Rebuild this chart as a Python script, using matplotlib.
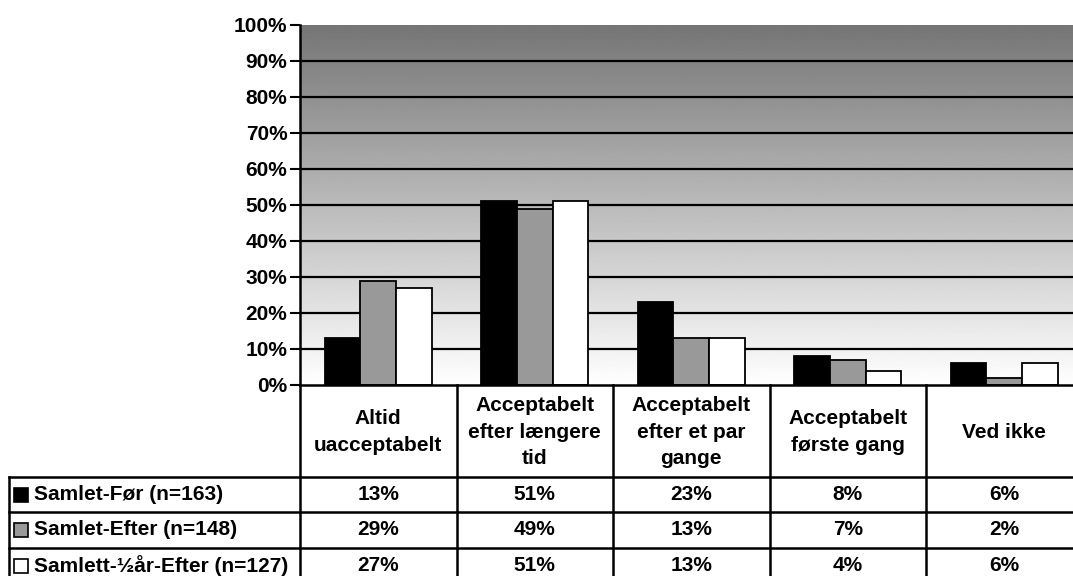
import numpy as np
import matplotlib
matplotlib.use("Agg")
import matplotlib.pyplot as plt
from matplotlib.patches import Rectangle

plt.rcParams['font.family'] = ['Liberation Sans', 'DejaVu Sans']
plt.rcParams['font.weight'] = 'bold'

categories = [
    "Altid\nuacceptabelt",
    "Acceptabelt\nefter længere\ntid",
    "Acceptabelt\nefter et par\ngange",
    "Acceptabelt\nførste gang",
    "Ved ikke",
]
series_names = [
    "Samlet-Før (n=163)",
    "Samlet-Efter (n=148)",
    "Samlett-½år-Efter (n=127)",
]
foer = [13, 51, 23, 8, 6]
efter = [29, 49, 13, 7, 2]
halvaar_efter = [27, 51, 13, 4, 6]
yticks = [0, 10, 20, 30, 40, 50, 60, 70, 80, 90, 100]

series = [foer, efter, halvaar_efter]
colors = ["#000000", "#999999", "#ffffff"]

W, H = 1073, 576
fig = plt.figure(figsize=(W / 100, H / 100), dpi=100)

# plot area in pixels: left 300, right 1082 (runs past the edge), top 25, bottom 385
px_left, px_right, px_top, px_bot = 300, 1082.5, 25, 385
ax = fig.add_axes([px_left / W, (H - px_bot) / H,
                   (px_right - px_left) / W, (px_bot - px_top) / H])

n = len(categories)
x = np.arange(n)
ax.set_xlim(-0.5, n - 0.5)
ax.set_ylim(0, 100)

# gradient background: dark grey at top, white at bottom
grad = np.linspace(1.0, 0.46, 256).reshape(-1, 1)
ax.imshow(grad, extent=[-0.5, n - 0.5, 0, 100], aspect='auto', cmap='gray',
          vmin=0, vmax=1, origin='lower', zorder=0)

for t in yticks[1:-1]:
    ax.axhline(t, color='black', lw=1.6, zorder=1)

bw = 0.227
for i, (vals, c) in enumerate(zip(series, colors)):
    ax.bar(x + (i - 1) * bw, vals, width=bw, color=c, edgecolor='black',
           linewidth=1.3, zorder=2)

fs = 15
ax.set_yticks(yticks)
ax.set_yticklabels([f"{t}%" for t in yticks], fontsize=fs, fontweight='bold')
ax.tick_params(axis='y', length=7, width=1.5, pad=2)
ax.set_xticks([])
for s in ['top', 'right']:
    ax.spines[s].set_visible(False)
ax.spines['left'].set_linewidth(1.8)
ax.spines['bottom'].set_linewidth(1.8)

# data table under the chart
tr = ax.get_xaxis_transform()


def fy(py):
    return (px_bot - py) / (px_bot - px_top)


header_bot = 477
row_h = 35.3
rows_y = [header_bot + k * row_h for k in range(4)]
unit = n / (px_right - px_left)
legend_left = -0.5 - (px_left - 9) * unit

# vertical lines at category boundaries
for b in np.arange(-0.5, n, 1.0):
    ax.plot([b, b], [fy(px_bot), fy(600)], color='black', lw=1.8,
            transform=tr, clip_on=False)
ax.plot([legend_left, legend_left], [fy(header_bot), fy(600)], color='black',
        lw=1.8, transform=tr, clip_on=False)
for ry in rows_y:
    ax.plot([legend_left, n - 0.5], [fy(ry), fy(ry)], color='black', lw=1.8,
            transform=tr, clip_on=False)

for j, cat in enumerate(categories):
    ax.text(j, fy((px_bot + header_bot) / 2 + 1), cat, transform=tr, ha='center',
            va='center', fontsize=fs, fontweight='bold', linespacing=1.5)

for i, (name, vals, c) in enumerate(zip(series_names, series, colors)):
    cy = rows_y[i] + row_h / 2
    ax.add_patch(Rectangle((legend_left + 5 * unit, fy(cy + 7.5)),
                           14 * unit, fy(cy - 6.5) - fy(cy + 7.5), facecolor=c,
                           edgecolor='black', lw=1.2, transform=tr, clip_on=False))
    ax.text(legend_left + 25 * unit, fy(cy), name,
            transform=tr, ha='left', va='center', fontsize=fs, fontweight='bold')
    for j, v in enumerate(vals):
        ax.text(j, fy(cy), f"{v}%", transform=tr, ha='center', va='center',
                fontsize=fs, fontweight='bold')

fig.savefig("out.png", dpi=100)
